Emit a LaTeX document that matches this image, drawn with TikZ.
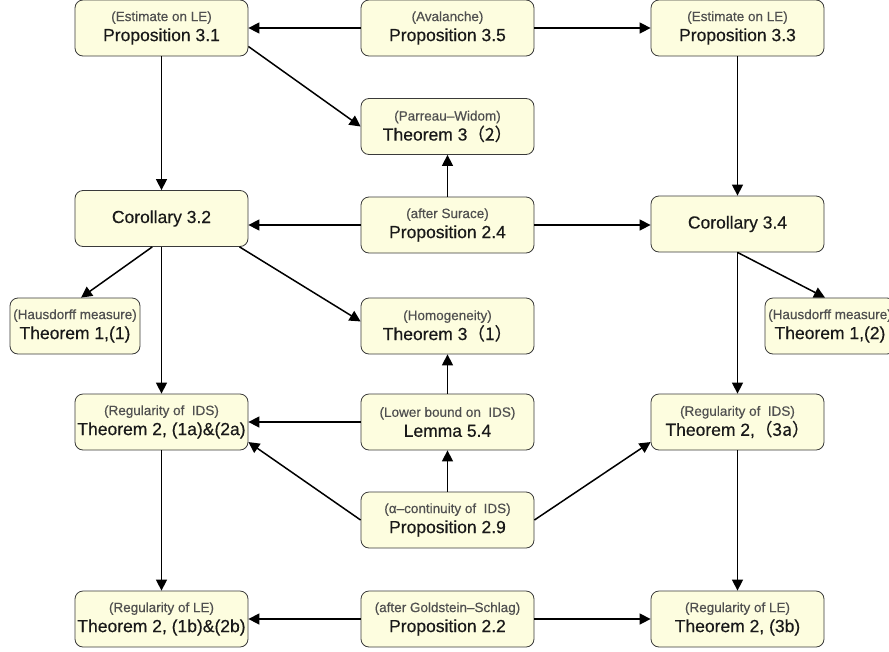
\documentclass[tikz,border=0pt]{standalone}
\usepackage{fontspec}
\setmainfont{Liberation Sans}
\newfontfamily\titlefont[FakeBold=0.4]{Liberation Sans}
\newfontfamily\cjk[FakeBold=0.4]{Noto Sans CJK SC}
\usetikzlibrary{arrows.meta}
\definecolor{boxfill}{HTML}{FDFDDF}
\definecolor{boxline}{HTML}{3A3A3A}
\definecolor{subgray}{HTML}{505050}
\newcommand{\subtext}[1]{{\fontsize{13.5}{15}\selectfont\color{subgray}#1}}
\newcommand{\fw}[1]{{\cjk #1}}
\begin{document}
\begin{tikzpicture}[x=1pt,y=-1pt,
	every node/.style={draw=boxline,fill=boxfill,rounded corners=8pt,line width=0.8pt,
		minimum width=173pt,minimum height=56pt,inner sep=0pt,align=center,
		font=\titlefont\fontsize{17.5}{20}\selectfont,text=black!90},
	small/.style={minimum width=130pt},
	arr/.style={line width=1.5pt,-{Triangle[length=11pt,width=11pt]}}]
\useasboundingbox (0,0) rectangle (889,651);

% top row
\node (prop31) at (161.5,28)
	{\subtext{(Estimate on LE)}\\Proposition 3.1};
\node (prop35) at (447.5,28)
	{\subtext{(Avalanche)}\\Proposition 3.5};
\node (prop33) at (737.5,28)
	{\subtext{(Estimate on LE)}\\Proposition 3.3};
\node (thm32) at (447.5,126.5)
	{\subtext{(Parreau–Widom)}\\Theorem 3\fw{（2）}};

% corollaries
\node (cor32) at (161.5,218.5)
	{Corollary 3.2};
\node (prop24) at (447.5,225)
	{\subtext{(after Surace)}\\Proposition 2.4};
\node (cor34) at (737.5,224)
	{Corollary 3.4};

\node[small] (thm11) at (75,326)
	{\subtext{(Hausdorff measure)}\\Theorem 1,(1)};
\node (thm31) at (447.5,326)
	{\subtext{(Homogeneity)}\\Theorem 3\fw{（1）}};
\node[small] (thm12) at (830,326)
	{\subtext{(Hausdorff measure)}\\Theorem 1,(2)};

% regularity
\node (thm2a) at (161.5,422)
	{\subtext{(Regularity of\ \ IDS)}\\Theorem 2, (1a)\&(2a)};
\node (lem54) at (447.5,422)
	{\subtext{(Lower bound on\ \ IDS)}\\Lemma 5.4};
\node (thm23a) at (737.5,422)
	{\subtext{(Regularity of\ \ IDS)}\\Theorem 2,\fw{（3a）}};
\node (prop29) at (447.5,520)
	{\subtext{(α–continuity of\ \ IDS)}\\Proposition 2.9};

% bottom row
\node (thm2b) at (161.5,619)
	{\subtext{(Regularity of LE)}\\Theorem 2, (1b)\&(2b)};
\node (prop22) at (447.5,619)
	{\subtext{(after Goldstein–Schlag)}\\Proposition 2.2};
\node (thm23b) at (737.5,619)
	{\subtext{(Regularity of LE)}\\Theorem 2, (3b)};

\path[arr]
(prop35) edge (prop31)
(prop35) edge (prop33)
(prop31) edge (cor32)
(prop31.-12) edge (thm32.west)
(prop33) edge (cor34)
(prop24) edge (thm32)
(prop24.west) edge (prop24.west -| cor32.east)
(prop24.east) edge (prop24.east -| cor34.west)
(cor32.-108) edge (thm11.78)
(cor32) edge (thm2a)
(cor32.-20) edge (thm31.177)
(cor34.south) edge (thm12.100)
(cor34) edge (thm23a)
(lem54) edge (thm31)
(lem54) edge (thm2a)
(prop29) edge (lem54)
(prop29.west) edge (thm2a.-13)
(prop29.east) edge (thm23a.193)
(thm2a) edge (thm2b)
(thm23a) edge (thm23b)
(prop22) edge (thm2b)
(prop22) edge (thm23b);
\end{tikzpicture}
\end{document}
